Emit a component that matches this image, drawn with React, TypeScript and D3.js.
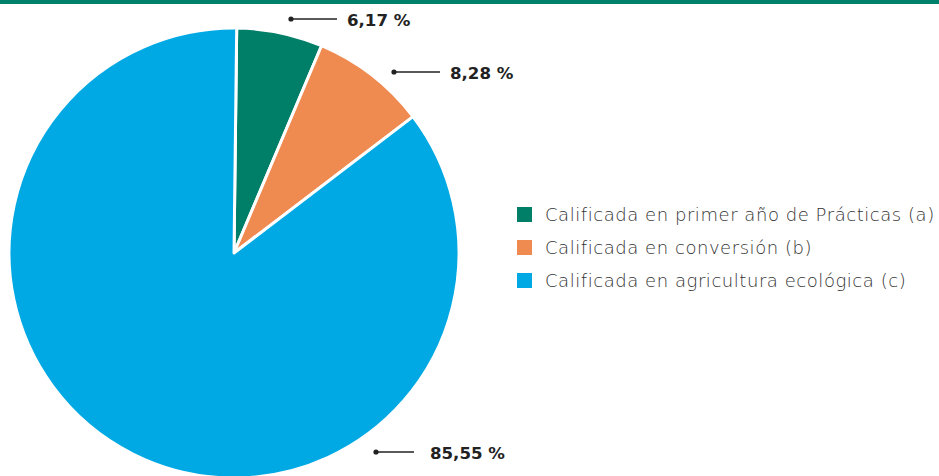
import React from "react";
import * as d3 from "d3";

const categories = [
  "Calificada en primer año de Prácticas (a)",
  "Calificada en conversión (b)",
  "Calificada en agricultura ecológica (c)",
];
const values = [6.17, 8.28, 85.55];
const valueLabels = ["6,17 %", "8,28 %", "85,55 %"];
const colors = ["#007f68", "#ef8a51", "#00a9e3"];

// label anchor layout (dot position relative to pie centre)
const labelAnchors = [
  { dx: 57, dy: -234 },
  { dx: 160, dy: -181 },
  { dx: 142, dy: 199 },
];

export default function App() {
  const W = 939, H = 476;
  const cx = 234, cy = 253, r = 225;
  const pie = d3.pie<number>().sort(null).value((d) => d).startAngle(0.012).endAngle(2 * Math.PI + 0.012)(values);
  const arc = d3.arc<d3.PieArcDatum<number>>().innerRadius(0).outerRadius(r);

  return (
    <svg width={W} height={H} style={{ position: "absolute", left: 0, top: 0, display: "block", background: "#fff" }}>
      <rect x={0} y={0} width={W} height={4} fill="#00806a" />
      <g transform={`translate(${cx},${cy})`}>
        {pie.map((p, i) => (
          <path key={i} d={arc(p) || ""} fill={colors[i]} stroke="#fff" strokeWidth={3} strokeLinejoin="round" />
        ))}
        {labelAnchors.map((a, i) => (
          <g key={i} transform={`translate(${a.dx},${a.dy})`}>
            <circle r={2.6} fill="#222" />
            <line x1={0} x2={i === 2 ? 38 : 46} y1={0} y2={0} stroke="#222" strokeWidth={1.5} />
            <text x={i === 2 ? 54 : 56} y={6.5} fontFamily="'DejaVu Sans', sans-serif" fontWeight={700} fontSize={16.6} fill="#222">
              {valueLabels[i]}
            </text>
          </g>
        ))}
      </g>
      <g transform="translate(517,207)">
        {categories.map((c, i) => (
          <g key={i} transform={`translate(0,${i * 33})`}>
            <rect x={0} y={0} width={15} height={15} fill={colors[i]} />
            <text x={28} y={14} fontFamily="'DejaVu Sans ExtraLight', 'DejaVu Sans', sans-serif" fontWeight={200} fontSize={18} letterSpacing={0.55} fill="#333">
              {c}
            </text>
          </g>
        ))}
      </g>
    </svg>
  );
}
